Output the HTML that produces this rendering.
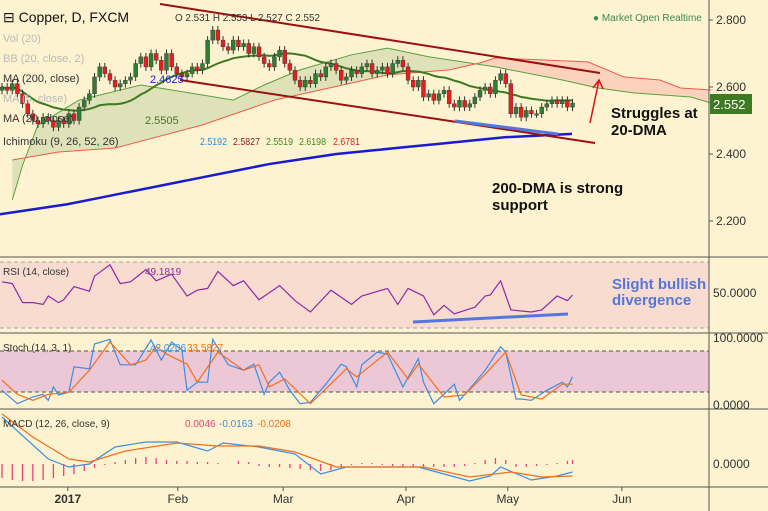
<!DOCTYPE html>
<html><head><meta charset="utf-8">
<style>
body{margin:0;background:#fdf3d0;font-family:"Liberation Sans",sans-serif;}
svg{display:block}
text{font-family:"Liberation Sans",sans-serif;}
</style></head>
<body>
<svg id="chart" width="768" height="511" viewBox="0 0 768 511">
<defs>
<clipPath id="clipL"><rect x="0" y="0" width="465" height="260"/></clipPath>
<clipPath id="clipR"><rect x="465" y="0" width="244" height="260"/></clipPath>
</defs>
<rect x="0" y="0" width="768" height="511" fill="#fdf3d0"/>
<g id="main"></g>
<g id="rsi"></g>
<g id="stoch"></g>
<g id="macd"></g>
<g id="axes"></g>
</svg>
<script>
const closes=[2.60,2.59,2.61,2.58,2.55, 2.52,2.50,2.49,2.51,2.50, 2.48,2.50,2.49,2.52,2.50, 2.54,2.56,2.58,2.63,2.66,
2.64,2.62,2.60,2.61,2.62, 2.63,2.67,2.69,2.66,2.70, 2.68,2.65,2.70,2.66,2.64, 2.63,2.64,2.66,2.65,2.67,
2.74,2.77,2.74,2.72,2.71, 2.74,2.72,2.73,2.70,2.72, 2.69,2.67,2.66,2.69,2.71, 2.67,2.65,2.62,2.60,2.62,
2.61,2.64,2.63,2.66,2.67, 2.65,2.62,2.63,2.65,2.64, 2.66,2.67,2.64,2.65,2.66, 2.64,2.67,2.68,2.66,2.62,
2.60,2.62,2.57,2.58,2.56, 2.58,2.59,2.55,2.54,2.56, 2.54,2.55,2.57,2.59,2.60, 2.58,2.62,2.64,2.61,2.52,
2.54,2.51,2.53,2.52,2.52, 2.54,2.55,2.56,2.55,2.56, 2.54,2.552];
const opens=[2.59].concat(closes.slice(0,-1));
const ma200=[2.22,2.235,2.25,2.27,2.29,2.31,2.33,2.35,2.37,2.385,2.40,2.41,2.42,2.43,2.44,2.45,2.455,2.46];
const spanABars=[2,4,7,15,27,39,45,51,58,68,75,83,96,109,116,123,134,138];
const spanAVals=[2.263,2.367,2.487,2.561,2.606,2.576,2.561,2.606,2.651,2.696,2.716,2.690,2.660,2.621,2.597,2.582,2.570,2.552];
const spanBBars=[2,11,22,39,53,68,75,87,93,96,114,121,128,132,138];
const spanBVals=[2.382,2.406,2.418,2.487,2.561,2.612,2.636,2.651,2.672,2.687,2.675,2.630,2.621,2.597,2.591];
const rsiBars=[0,2,4,6,8,9,11,12,14,17,18,21,23,25,28,30,33,36,38,40,42,45,47,50,54,57,60,64,68,70,75,77,79,82,84,86,88,92,94,95,97,99,103,105,108,110,111];
const rsiVals=[58,56.9,45.4,45.4,44.3,49.4,45.4,47.1,55.1,52.3,61.4,68.3,56.9,58,65.4,58.6,62.6,49.4,52.9,54,64.3,55.7,58.6,47.1,55.7,46.6,39.7,52.9,44.3,49.4,54,44.3,54,49.4,38,43.7,38.6,42.6,49.4,50,58.6,40.9,39.7,40.9,49.4,46.6,50];
const kBars=[0,3,6,8,9,10,11,13,14,17,18,21,23,26,29,31,33,35,36,38,40,41,44,47,49,51,52,54,56,58,60,63,66,67,69,70,73,75,78,81,82,84,86,88,89,91,94,97,98,100,101,103,106,109,110,111];
const kVals=[22,2,12,16,7,27,15,19,57,54,91,98,60,60,97,67,94,82,22,34,34,98,60,52,61,16,34,49,22,2,4,31,61,57,27,60,79,76,27,69,34,2,16,31,7,24,52,87,79,9,9,7,22,34,27,42];
const dBars=[0,3,6,9,13,17,21,25,28,30,32,36,38,42,47,50,52,55,60,67,69,75,79,81,86,90,94,98,101,105,109,111];
const dVals=[37,16,7,16,19,52,94,60,67,87,76,61,34,79,52,60,27,39,2,54,42,79,39,61,12,15,46,79,15,9,31,31];
const macdBars=[0,9,13,17,22,28,34,40,43,50,57,62,67,76,81,86,91,95,97,103,108,111];
const macdVals=[.047,.005,-.003,0,.017,.022,.022,.013,.021,.017,.010,-.010,-.003,-.003,-.003,-.010,-.017,-.012,-.003,-.016,-.012,-.008];
const sigBars=[0,6,13,17,24,34,42,50,57,65,72,82,91,99,105,111];
const sigVals=[.050,.027,.005,.002,.013,.021,.018,.018,.012,-.003,-.003,-.003,-.013,-.008,-.013,-.012];
const histBars=[0,2,4,6,8,10,12,14,16,18,20,22,24,26,28,30,32,34,36,38,40,42,44,46,48,50,52,54,56,58,60,62,64,66,68,70,72,74,76,78,80,82,84,86,88,90,92,94,96,98,100,102,104,106,108,110,111];
const histVals=[-.014,-.016,-.017,-.017,-.016,-.014,-.012,-.010,-.007,-.004,-.001,.002,.004,.006,.007,.006,.004,.003,.003,.002,.002,.001,0,.003,.002,-.002,-.003,-.003,-.004,-.005,-.006,-.007,-.006,-.003,-.001,.001,.001,-.001,-.002,-.003,-.003,-.003,-.003,-.003,-.003,-.002,.001,.004,.006,.004,-.003,-.003,-.002,-.001,.001,.003,.004];
const priceTicks=[2.8,2.6,2.4,2.2];
const months=["2017","Feb","Mar","Apr","May","Jun"];
const monthBars=[12.8,34.2,54.7,78.6,98.4,120.6];

const NS="http://www.w3.org/2000/svg";
function el(p,tag,a,txt){const e=document.createElementNS(NS,tag);for(const k in a)e.setAttribute(k,a[k]);if(txt!==undefined)e.textContent=txt;p.appendChild(e);return e;}
const bx=i=>2+i*5.14;
const py=p=>20+(2.8-p)*335;
const main=document.getElementById('main'),axes=document.getElementById('axes');
const PW=709,N=closes.length;
function pathOf(bars,vals,yf){return bars.map((b,j)=>(j?'L':'M')+bx(b).toFixed(1)+','+yf(vals[j]).toFixed(1)).join('');}
// cloud
const ptsA=spanABars.map((b,j)=>bx(b)+','+py(spanAVals[j]));
const ptsB=spanBBars.map((b,j)=>bx(b)+','+py(spanBVals[j])).reverse();
const poly=ptsA.concat(ptsB).join(' ');
let e=el(main,'polygon',{points:poly,fill:'#dfe2b8','clip-path':'url(#clipL)'});

e=el(main,'polygon',{points:poly,fill:'#fbd3bd','clip-path':'url(#clipR)'});

e=el(main,'path',{d:pathOf(spanABars,spanAVals,py),fill:'none',stroke:'#5aa040','stroke-width':1});

e=el(main,'path',{d:pathOf(spanBBars,spanBVals,py),fill:'none',stroke:'#f05a48','stroke-width':1});

// ma200
let d='';ma200.forEach((v,j)=>{d+=(j?'L':'M')+(j*(572/(ma200.length-1)))+','+py(v);});
e=el(main,'path',{d,fill:'none',stroke:'#1a1ad0','stroke-width':2.5});

// ma20
d='';for(let i=0;i<N;i++){let s=0,c=0;for(let k=Math.max(0,i-19);k<=i;k++){s+=closes[k];c++;}d+=(i?'L':'M')+bx(i)+','+py(s/c);}
e=el(main,'path',{d,fill:'none',stroke:'#3d7a22','stroke-width':2});

// candles
for(let i=0;i<N;i++){const o=opens[i],c=closes[i],up=c>=o,col=up?'#2e7d32':'#e02020';
 const g=el(main,'g',{});
 el(g,'line',{x1:bx(i),x2:bx(i),y1:py(Math.max(o,c)+0.012),y2:py(Math.min(o,c)-0.012),stroke:'#333','stroke-width':1});
 const t=py(Math.max(o,c)),h=Math.max(1.5,py(Math.min(o,c))-t);
 el(g,'rect',{x:bx(i)-2,y:t,width:4,height:h,fill:col,stroke:'#333','stroke-width':0.4});}
// drawings
e=el(main,'line',{x1:160,y1:4,x2:600,y2:73,stroke:'#9b1010','stroke-width':2});
e=el(main,'line',{x1:180,y1:80,x2:595,y2:143,stroke:'#9b1010','stroke-width':2});
e=el(main,'line',{x1:455,y1:121,x2:558,y2:134,stroke:'#5577dd','stroke-width':3});
e=el(main,'path',{d:'M590,123 L599,80 M593,88 L599,80 L603,89',fill:'none',stroke:'#e01010','stroke-width':1.5});
e=el(main,'text',{x:611,y:118,'font-size':15,'font-weight':'bold',fill:'#111'},'Struggles at');
el(main,'text',{x:611,y:135,'font-size':15,'font-weight':'bold',fill:'#111'},'20-DMA');
e=el(main,'text',{x:492,y:193,'font-size':15,'font-weight':'bold',fill:'#111'},'200-DMA is strong');
el(main,'text',{x:492,y:210,'font-size':15,'font-weight':'bold',fill:'#111'},'support');
// legend
e=el(main,'text',{x:3,y:22,'font-size':14,fill:'#111'},'⊟ Copper, D, FXCM');
e=el(main,'text',{x:175,y:21,'font-size':10.5,fill:'#333',textLength:145,lengthAdjust:'spacingAndGlyphs'},'O 2.531 H 2.553 L 2.527 C 2.552');
[['Vol (20)',42,'#bbb'],['BB (20, close, 2)',62,'#bbb'],['MA (200, close)',82,'#333'],['MA (5, close)',102,'#bbb'],['MA (20, close)',122,'#333'],['Ichimoku (9, 26, 52, 26)',145,'#333']].forEach(r=>{const t=el(main,'text',{x:3,y:r[1],'font-size':11,fill:r[2]},r[0]);});
el(main,'text',{x:150,y:83,'font-size':11,fill:'#2222dd'},'2.4625');
el(main,'text',{x:145,y:124,'font-size':11,fill:'#3d7a22'},'2.5505');
[['2.5192',200,'#2a8ae0'],['2.5827',233,'#8b1a1a'],['2.5519',266,'#3d8a22'],['2.6198',299,'#3d8a22'],['2.6781',333,'#e02020']].forEach(r=>el(main,'text',{x:r[1],y:145,'font-size':10.5,fill:r[2],textLength:27,lengthAdjust:'spacingAndGlyphs'},r[0]));
e=el(main,'text',{x:593,y:21,'font-size':10,fill:'#3d8a52'},'● Market Open Realtime');
// RSI
const rsiG=document.getElementById('rsi');
el(rsiG,'rect',{x:0,y:262,width:PW,height:66,fill:'#f7dccf'});
[262,328].forEach(y=>el(rsiG,'line',{x1:0,x2:PW,y1:y,y2:y,stroke:'#a0a0c0','stroke-dasharray':'4,3'}));
const rsiY=v=>262+(70-v)*66/40;
e=el(rsiG,'path',{d:pathOf(rsiBars,rsiVals,rsiY),fill:'none',stroke:'#8e2aa8','stroke-width':1.2});
e=el(rsiG,'line',{x1:413,y1:322,x2:568,y2:314,stroke:'#5577dd','stroke-width':3});
el(rsiG,'text',{x:3,y:275,'font-size':10,fill:'#333'},'RSI (14, close)');
el(rsiG,'text',{x:145,y:275,'font-size':10,fill:'#8e2aa8'},'49.1819');
e=el(rsiG,'text',{x:612,y:289,'font-size':15,'font-weight':'bold',fill:'#5577dd'},'Slight bullish');
el(rsiG,'text',{x:612,y:305,'font-size':15,'font-weight':'bold',fill:'#5577dd'},'divergence');
// Stoch
const stG=document.getElementById('stoch');
el(stG,'rect',{x:0,y:351,width:PW,height:41,fill:'#ecc8d6'});
[351,392].forEach(y=>el(stG,'line',{x1:0,x2:PW,y1:y,y2:y,stroke:'#555','stroke-dasharray':'4,3'}));
const stY=v=>405-v*0.67;
e=el(stG,'path',{d:pathOf(kBars,kVals,stY),fill:'none',stroke:'#3a8ee6','stroke-width':1.2});
e=el(stG,'path',{d:pathOf(dBars,dVals,stY),fill:'none',stroke:'#f07020','stroke-width':1.2});
el(stG,'text',{x:3,y:351,'font-size':10,fill:'#333'},'Stoch (14, 3, 1)');
el(stG,'text',{x:150,y:351,'font-size':10,fill:'#3a8ee6'},'42.0206');
el(stG,'text',{x:187,y:351,'font-size':10,fill:'#f07020'},'33.5827');
// MACD
const mG=document.getElementById('macd');
const mY=v=>464-v*1000;
histBars.forEach((b,j)=>{const r=el(mG,'line',{x1:bx(b),x2:bx(b),y1:464,y2:mY(histVals[j]),stroke:'#e8407a','stroke-width':1.3});});
e=el(mG,'path',{d:pathOf(macdBars,macdVals,mY),fill:'none',stroke:'#3a8ee6','stroke-width':1.2});
e=el(mG,'path',{d:pathOf(sigBars,sigVals,mY),fill:'none',stroke:'#f07020','stroke-width':1.2});
el(mG,'text',{x:3,y:427,'font-size':10,fill:'#333'},'MACD (12, 26, close, 9)');
el(mG,'text',{x:185,y:427,'font-size':10,fill:'#e8407a'},'0.0046');
el(mG,'text',{x:219,y:427,'font-size':10,fill:'#3a8ee6'},'-0.0163');
el(mG,'text',{x:257,y:427,'font-size':10,fill:'#f07020'},'-0.0208');
// axes
[257,333,409,487].forEach(y=>el(axes,'line',{x1:0,x2:768,y1:y,y2:y,stroke:'#555','stroke-width':1}));
el(axes,'line',{x1:PW,x2:PW,y1:0,y2:511,stroke:'#555','stroke-width':1});
priceTicks.forEach(p=>{el(axes,'line',{x1:PW,x2:PW+4,y1:py(p),y2:py(p),stroke:'#555'});const t=el(axes,'text',{x:716,y:py(p)+4,'font-size':12,fill:'#333'},p.toFixed(3));});
e=el(axes,'rect',{x:710,y:94,width:42,height:20,fill:'#3e7a22'});
el(axes,'text',{x:713,y:109,'font-size':13,fill:'#fff'},'2.552');
[['50.0000',297],['100.0000',342],['0.0000',409],['0.0000',468]].forEach(r=>el(axes,'text',{x:713,y:r[1],'font-size':12,fill:'#333'},r[0]));
months.forEach((m,j)=>{const x=bx(monthBars[j]);el(axes,'line',{x1:x,x2:x,y1:487,y2:491,stroke:'#555'});const t=el(axes,'text',{x:x,y:503,'font-size':12,fill:'#333','text-anchor':'middle','font-weight':j==0?'bold':'normal'},m);});
</script>
</body></html>
